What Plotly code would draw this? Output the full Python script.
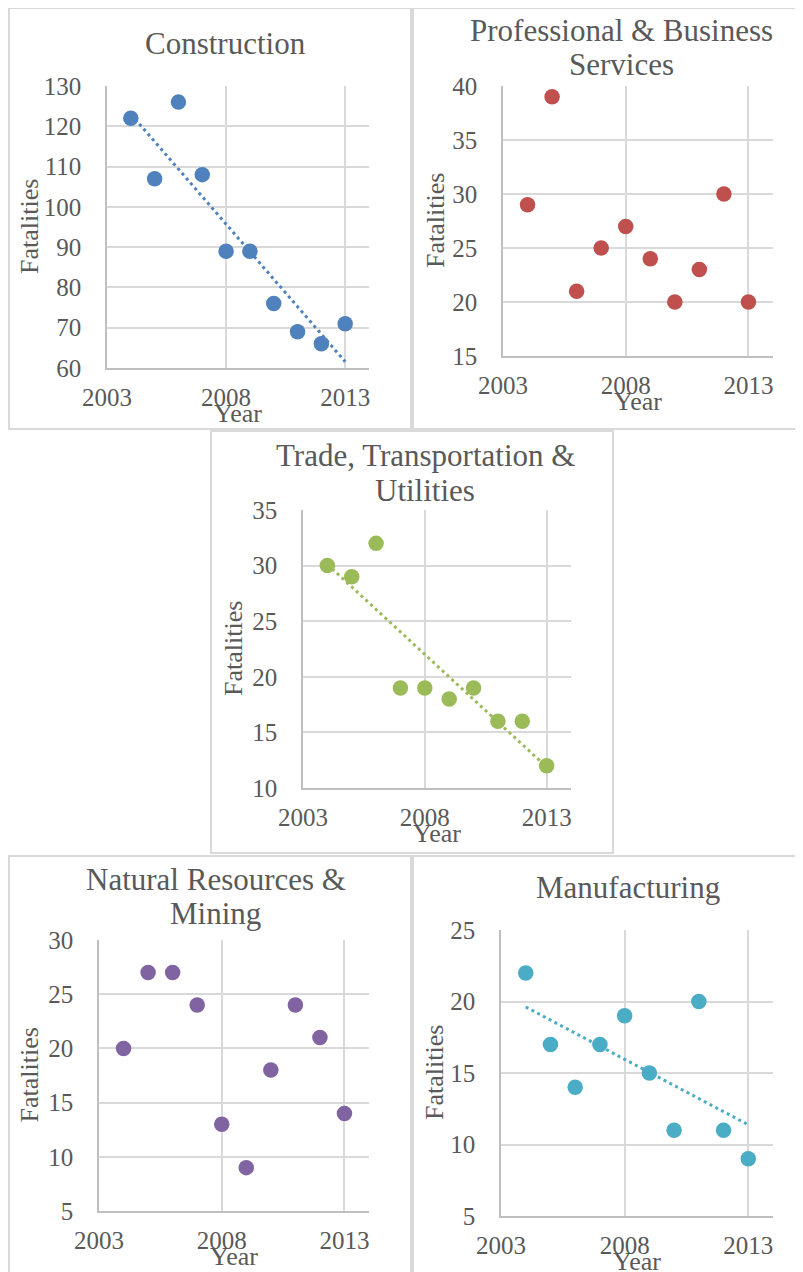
import plotly.graph_objects as go
import numpy as np

W, H = 803, 1272
OFF = 8  # page body margin, positions below are measured from the window corner

years = [2004, 2005, 2006, 2007, 2008, 2009, 2010, 2011, 2012, 2013]

construction = [122, 107, 126, 108, 89, 89, 76, 69, 66, 71]
professional = [29, 39, 21, 25, 27, 24, 20, 23, 30, 20]
trade = [30, 29, 32, 19, 19, 18, 19, 16, 16, 12]
natural = [20, 27, 27, 24, 13, 9, 18, 24, 21, 14]
manufacturing = [22, 17, 14, 17, 19, 15, 11, 20, 11, 9]

x_ticks = [2003, 2008, 2013]

FONT = "Liberation Serif"
TXT = "#595959"
GRID = "#d9d9d9"

# title lines, values, colour, y range, y step, trendline?, plot box, panel box, title x, title ys, y-label x
panels = [
    (["Construction"], construction, "#4f81bd", [60, 130], 10, True,
     (107, 369, 86, 368), (9, 411, 8, 429), 225, [44], 29),
    (["Professional & Business", "Services"], professional, "#c0504d", [15, 40], 5, False,
     (503, 773, 86, 356), (413, 850, 8, 429), 621, [30, 65], 435),
    (["Trade, Transportation &", "Utilities"], trade, "#9bbb59", [10, 35], 5, True,
     (303, 571, 510, 788), (211, 613, 431, 853), 425, [456, 490], 233),
    (["Natural Resources &", "Mining"], natural, "#8064a2", [5, 30], 5, False,
     (99, 369, 940, 1211), (9, 411, 856, 1320), 216, [879, 913], 29),
    (["Manufacturing"], manufacturing, "#4bacc6", [5, 25], 5, True,
     (501, 773, 930, 1216), (413, 850, 856, 1320), 628, [887], 434),
]

fig = go.Figure()
layout = {}
annotations = []
shapes = []

def px_x(v):
    return (v - OFF) / W

def px_y(v):
    return 1 - (v - OFF) / H

for i, (lines, vals, col, yr, dy, trend, box, panel, tx, tys, ylab_x) in enumerate(panels):
    n = "" if i == 0 else str(i + 1)
    xa, ya = "x" + n, "y" + n
    x0, x1, y0, y1 = box

    fig.add_trace(go.Scatter(
        x=years, y=vals, mode="markers", xaxis=xa, yaxis=ya,
        marker=dict(color=col, size=15.5), showlegend=False
    ))
    if trend:
        # linear trendline fitted to the series
        k, b = np.polyfit(years, vals, 1)
        ends = [years[0], years[-1]]
        fig.add_trace(go.Scatter(
            x=ends, y=[k * e + b for e in ends], mode="lines", xaxis=xa, yaxis=ya,
            line=dict(color=col, width=3, dash="3px,3.5px"), showlegend=False
        ))

    layout["xaxis" + n] = dict(
        domain=[px_x(x0), px_x(x1)], anchor=ya, range=[2003, 2014],
        tickvals=x_ticks, showgrid=True, gridcolor=GRID, gridwidth=1.5,
        showline=True, linecolor="#bfbfbf", linewidth=1.5, zeroline=False,
        ticks="", ticklabelstandoff=6, automargin=False,
        tickfont=dict(family=FONT, size=25, color=TXT), fixedrange=True
    )
    layout["yaxis" + n] = dict(
        domain=[px_y(y1), px_y(y0)], anchor=xa, range=yr, dtick=dy, tick0=yr[0],
        showgrid=True, gridcolor=GRID, gridwidth=1.5,
        showline=True, linecolor="#bfbfbf", linewidth=1.5, zeroline=False,
        ticks="", ticklabelstandoff=19, automargin=False,
        tickfont=dict(family=FONT, size=25, color=TXT), fixedrange=True
    )

    for line, ty in zip(lines, tys):
        annotations.append(dict(
            text=line, x=px_x(tx), y=px_y(ty), xref="paper", yref="paper",
            xanchor="center", yanchor="middle", showarrow=False,
            font=dict(family=FONT, size=31, color=TXT)
        ))
    annotations.append(dict(
        text="Year", x=px_x((x0 + x1) / 2), y=px_y(y1 + 45), xref="paper", yref="paper",
        xanchor="center", yanchor="middle", showarrow=False,
        font=dict(family=FONT, size=26, color=TXT)
    ))
    annotations.append(dict(
        text="Fatalities", x=px_x(ylab_x), y=px_y((y0 + y1) / 2), xref="paper", yref="paper",
        xanchor="center", yanchor="middle", showarrow=False, textangle=-90,
        font=dict(family=FONT, size=26, color=TXT)
    ))

    px0, px1, py0, py1 = panel
    shapes.append(dict(
        type="rect", xref="paper", yref="paper",
        x0=px_x(px0), x1=px_x(px1), y0=px_y(py1), y1=px_y(py0),
        line=dict(color=GRID, width=2), fillcolor="rgba(0,0,0,0)", layer="below"
    ))

fig.update_layout(
    template="plotly_white",
    width=W, height=H, margin=dict(l=0, r=0, t=0, b=0, pad=0),
    paper_bgcolor="white", plot_bgcolor="white",
    annotations=annotations, shapes=shapes, **layout
)

fig.write_html("out.html")
